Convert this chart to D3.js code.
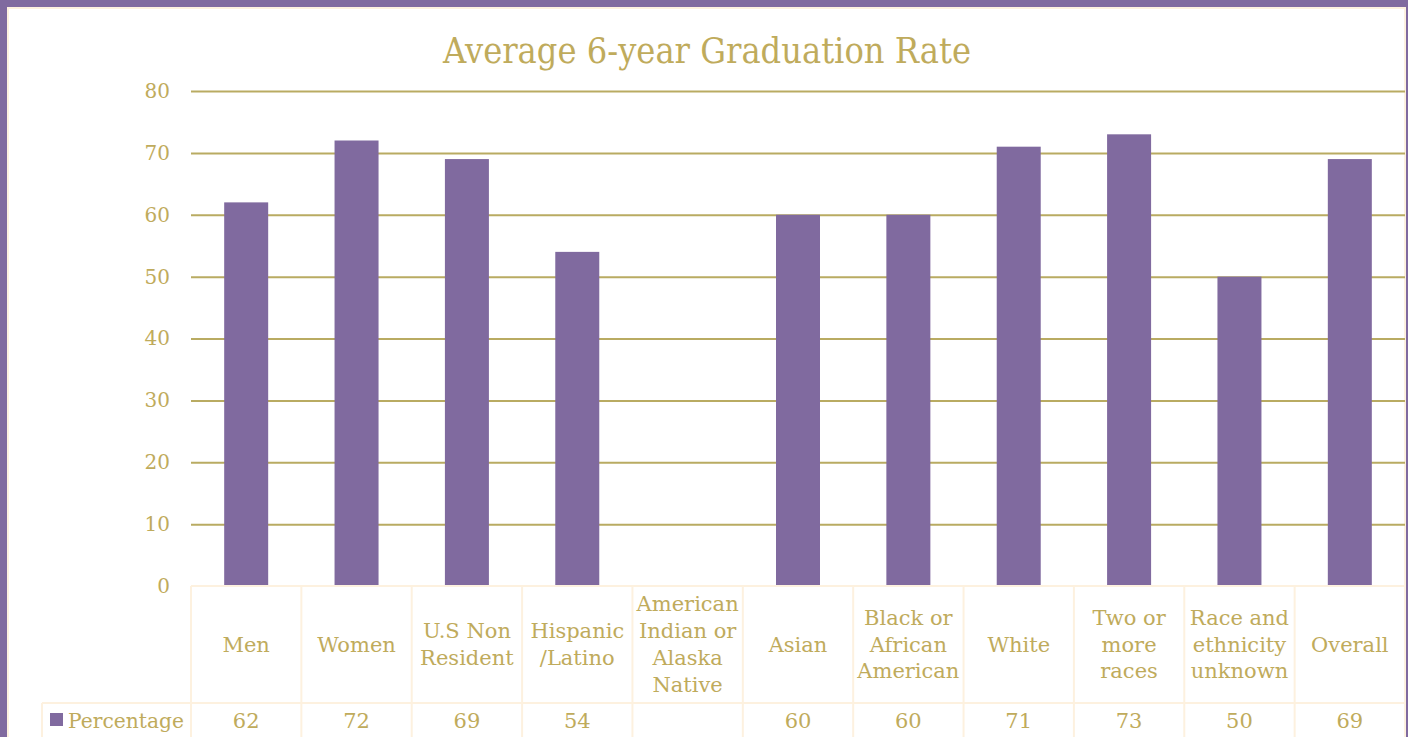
<!DOCTYPE html>
<html><head><meta charset="utf-8">
<script src="https://cdn.jsdelivr.net/npm/d3@7/dist/d3.min.js"></script>
<style>html,body{margin:0;padding:0;background:#fff;overflow:hidden}</style>
</head><body>
<svg id="c" width="1408" height="737"></svg>
<script>
const categories = [
  ["Men"], ["Women"], ["U.S Non","Resident"], ["Hispanic","/Latino"],
  ["American","Indian or","Alaska","Native"], ["Asian"], ["Black or","African","American"],
  ["White"], ["Two or","more","races"], ["Race and","ethnicity","unknown"], ["Overall"]
];
const values = [62, 72, 69, 54, null, 60, 60, 71, 73, 50, 69];
const yTicks = [0, 10, 20, 30, 40, 50, 60, 70, 80];
const seriesName = "Percentage";
const title = "Average 6-year Graduation Rate";

const gold = "#bfab5c", grid = "#b9ab62", purple = "#806a9f", cream = "#fdf1df";
const font = "'DejaVu Serif', serif";
const svg = d3.select("#c");
const W = 1408, H = 737;

// frame
svg.append("rect").attr("x",0).attr("y",0).attr("width",W).attr("height",H).attr("fill",purple);
svg.append("rect").attr("x",8).attr("y",8).attr("width",1397).attr("height",H).attr("fill","#fff")
  .attr("stroke",cream).attr("stroke-width",2);

const x0 = 191, x1 = 1405, yTop = 91, yBot = 586;
const x = d3.scaleBand().domain(d3.range(categories.length)).range([x0, x1]).paddingInner(0).paddingOuter(0);
const y = d3.scaleLinear().domain([0, 80]).range([yBot, yTop]);

svg.append("text").attr("x",707).attr("y",63).attr("text-anchor","middle")
  .attr("font-family",font).attr("font-size",35).attr("fill",gold)
  .attr("textLength",528).attr("lengthAdjust","spacingAndGlyphs").text(title);

// gridlines
const gy = svg.append("g").attr("transform",`translate(${x0},0)`)
  .call(d3.axisLeft(y).tickValues(yTicks).tickSize(-(x1 - x0)).tickPadding(21).tickFormat(d3.format("d")));
gy.select(".domain").remove();
gy.selectAll(".tick line").attr("stroke",grid).attr("stroke-width",2)
  .attr("display", d => d === 0 ? "none" : null);
gy.selectAll(".tick text").attr("fill",gold).attr("font-family",font).attr("font-size",20);

// bars
const bw = 44;
svg.append("g").selectAll("rect").data(values.map((v,i)=>({v,i})).filter(d=>d.v!=null)).join("rect")
  .attr("x", d => x(d.i) + x.bandwidth()/2 - bw/2)
  .attr("width", bw)
  .attr("y", d => y(d.v))
  .attr("height", d => y(0) - y(d.v))
  .attr("fill", purple);

// data table
const rowTop = 586, rowMid = 703, rowBot = 745;
const tg = svg.append("g").attr("stroke",cream).attr("stroke-width",2).attr("fill","none");
tg.append("line").attr("x1",x0).attr("x2",x1).attr("y1",rowTop).attr("y2",rowTop);
tg.append("line").attr("x1",42).attr("x2",x1).attr("y1",rowMid).attr("y2",rowMid);
tg.append("line").attr("x1",42).attr("x2",42).attr("y1",rowMid).attr("y2",rowBot);
d3.range(categories.length + 1).forEach(i => {
  const xx = i < categories.length ? x(i) : x1;
  tg.append("line").attr("x1",xx).attr("x2",xx).attr("y1",rowTop).attr("y2",rowBot);
});

const lh = 26.7, fs = 21;
const catG = svg.append("g").attr("font-family",font).attr("font-size",fs).attr("fill",gold).attr("text-anchor","middle");
categories.forEach((lines, i) => {
  const cx = x(i) + x.bandwidth()/2;
  const cy = (rowTop + rowMid)/2;
  const start = cy - (lines.length - 1) * lh / 2 + 7;
  lines.forEach((t, j) => {
    catG.append("text").attr("x", cx).attr("y", start + j*lh).text(t);
  });
});
values.forEach((v, i) => {
  if (v == null) return;
  catG.append("text").attr("x", x(i) + x.bandwidth()/2).attr("y", 728).text(v);
});
svg.append("rect").attr("x",50).attr("y",713).attr("width",13).attr("height",13).attr("fill",purple);
svg.append("text").attr("x",68).attr("y",728).attr("font-family",font).attr("font-size",fs).attr("fill",gold)
  .attr("textLength",116).attr("lengthAdjust","spacingAndGlyphs").text(seriesName);
</script>
</body></html>
